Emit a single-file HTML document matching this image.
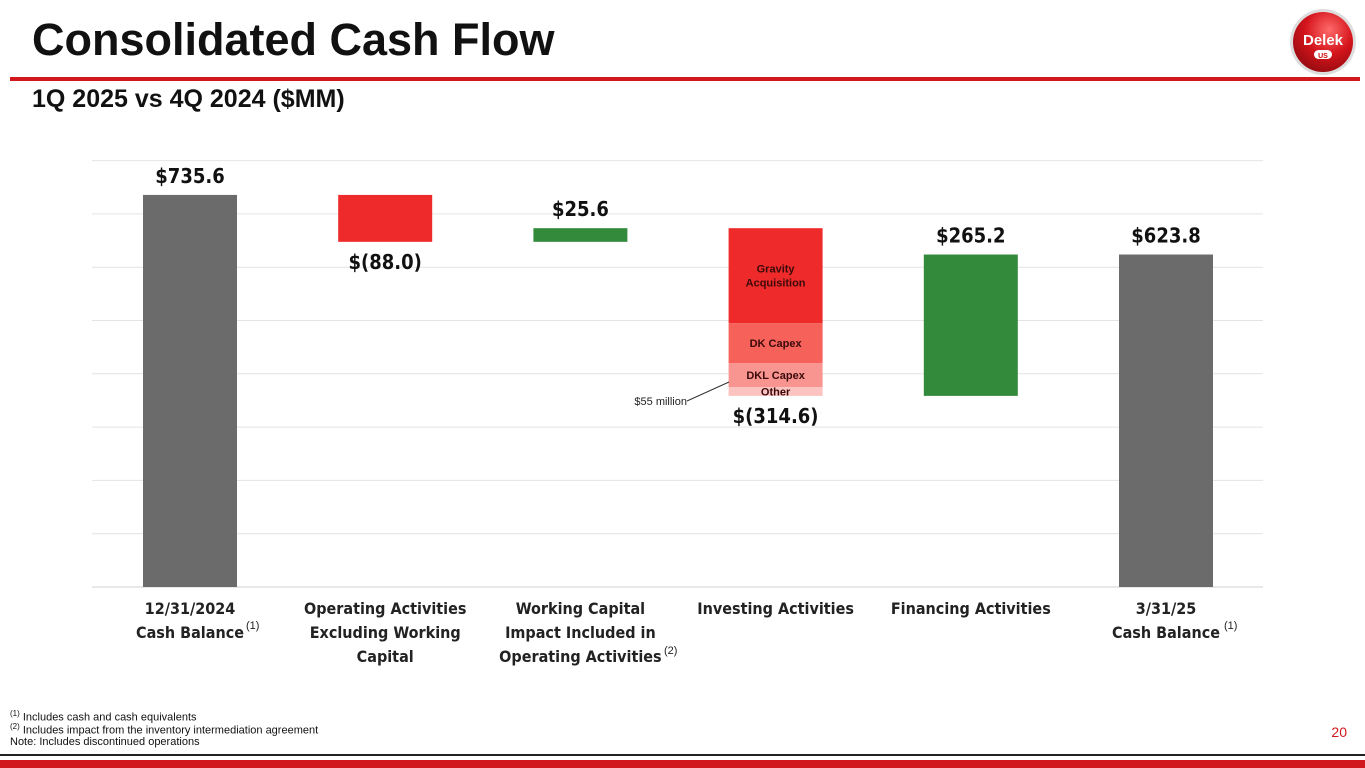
<!DOCTYPE html>
<html><head><meta charset="utf-8">
<style>
body{margin:0;width:1365px;height:768px;background:#fff;overflow:hidden;position:relative;font-family:"Liberation Sans",sans-serif}
.title{position:absolute;left:32px;top:14px;font-size:45px;font-weight:bold;color:#111}
.sub{position:absolute;left:32px;top:85px;font-size:25px;font-weight:bold;color:#111}
.redline{position:absolute;left:10px;top:77px;width:1350px;height:4px;background:#d0181e}
.foot{position:absolute;left:10px;font-size:11px;color:#111}
sup{font-size:8px}
</style></head><body>
<div class="title">Consolidated Cash Flow</div>
<div class="redline"></div>
<div class="sub">1Q 2025 vs 4Q 2024 ($MM)</div>
<svg style="position:absolute;left:1289px;top:8px" width="68" height="68" viewBox="0 0 68 68">
<defs><radialGradient id="lg" cx="0.6" cy="0.3" r="0.8"><stop offset="0" stop-color="#ff6a6a"/><stop offset="0.5" stop-color="#d4141c"/><stop offset="1" stop-color="#8a0a0e"/></radialGradient></defs>
<circle cx="34" cy="34" r="33" fill="#ddd"/><circle cx="34" cy="34" r="30" fill="url(#lg)"/>
<text x="34" y="37" text-anchor="middle" font-size="15" font-weight="bold" fill="#fff" font-family="Liberation Sans">Delek</text>
<rect x="25" y="42" width="18" height="9" rx="4.5" fill="#fff"/><text x="34" y="50" text-anchor="middle" font-size="7" font-weight="bold" fill="#c00" font-family="Liberation Sans">US</text>
</svg>
<svg id="chart" style="position:absolute;left:0;top:0" width="1365" height="768"></svg>
<div class="foot" style="top:709px"><sup>(1)</sup> Includes cash and cash equivalents</div>
<div class="foot" style="top:722px"><sup>(2)</sup> Includes impact from the inventory intermediation agreement</div>
<div class="foot" style="top:736px">Note: Includes discontinued operations</div>
<div style="position:absolute;right:18px;top:724px;font-size:14px;color:#d0181e">20</div>
<div style="position:absolute;left:0;top:754px;width:1365px;height:2px;background:#222"></div>
<div style="position:absolute;left:0;top:760px;width:1365px;height:8px;background:#d0181e"></div>
<script>
const categories=[["12/31/2024","Cash Balance"],["Operating Activities","Excluding Working","Capital"],["Working Capital","Impact Included in","Operating Activities"],["Investing Activities"],["Financing Activities"],["3/31/25","Cash Balance"]];
const values=[735.6,-88.0,25.6,-314.6,265.2,623.8];
const kinds=["total","delta","delta","delta","delta","total"];
const valueLabels=["$735.6","$(88.0)","$25.6","$(314.6)","$265.2","$623.8"];
const investNames=["Gravity\nAcquisition","DK Capex","DKL Capex","Other"];
const investValues=[178,75,45,16.6];
const investColors=["#ee2a2a","#f6615a","#f99590","#fcc3c0"];
const gridTicks=[0,100,200,300,400,500,600,700,800];
const svg=document.getElementById('chart');const NS="http://www.w3.org/2000/svg";
const y0=587,ppu=0.533,xStart=190,step=195.2,bw=94;
const Y=v=>y0-v*ppu, X=i=>xStart+i*step;
function mk(t,a,p){const e=document.createElementNS(NS,t);for(const k in a)e.setAttribute(k,a[k]);(p||svg).appendChild(e);return e;}
gridTicks.forEach(t=>{const g=mk('line',{x1:92,x2:1263,y1:Y(t),y2:Y(t),stroke:t===0?'#d0d0d0':'#e4e4e4','stroke-width':1});

});
let run=0;
values.forEach((v,i)=>{
 let top,bot,col;
 if(kinds[i]==="total"){top=Y(v);bot=Y(0);col="#6b6b6b";run=v;}
 else{const a=run,b=run+v;top=Y(Math.max(a,b));bot=Y(Math.min(a,b));col=v<0?"#ee2a2a":"#338a3a";run=b;}
 const x=X(i)-bw/2;
 if(i===3){
  let cur=run-v;
  investValues.forEach((sv,j)=>{const yt=Y(cur),yb=Y(cur-sv);
   const r=mk('rect',{x:x,y:yt,width:bw,height:yb-yt,fill:investColors[j]});
   
   
   const lines=investNames[j].split("\n");
   lines.forEach((ln,k)=>{const tx=mk('text',{x:X(i),y:(yt+yb)/2+4+(k-(lines.length-1)/2)*14,'text-anchor':'middle','font-size':11,'font-weight':'bold',fill:'#3a0a0a','font-family':'Liberation Sans'});tx.textContent=ln;
    
    });
   cur-=sv;});
  bot=Y(cur);
 } else {
  const r=mk('rect',{x:x,y:top,width:bw,height:bot-top,fill:col});
  
  
 }
 const below=v<0;
 const lt=mk('text',{x:X(i),y:below?bot+27:top-12,'text-anchor':'middle','font-size':20,'font-weight':'bold',fill:'#111','font-family':'DejaVu Sans Condensed, Liberation Sans, sans-serif'});
 lt.textContent=valueLabels[i];
 
 
 categories[i].forEach((ln,k)=>{const t=mk('text',{x:X(i),y:614+k*24,'text-anchor':'middle','font-size':16,'font-weight':'bold',fill:'#222','font-family':'DejaVu Sans Condensed, Liberation Sans, sans-serif'});t.textContent=ln;
  
  });
});
[[246,629,"(1)"],[664,654,"(2)"],[1224,629,"(1)"]].forEach(s=>{const t=mk('text',{x:s[0],y:s[1],'font-size':11,fill:'#222','font-family':'Liberation Sans'});t.textContent=s[2];
 
 });
const cl=mk('line',{x1:687,y1:401,x2:729,y2:382,stroke:'#333','stroke-width':1});


const ct=mk('text',{x:687,y:405,'text-anchor':'end','font-size':11,fill:'#222','font-family':'Liberation Sans'});ct.textContent="$55 million";


</script>
</body></html>
